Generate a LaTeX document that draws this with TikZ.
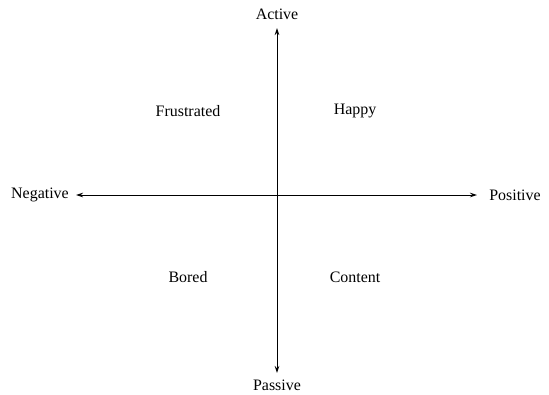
\documentclass[tikz,border=0pt]{standalone}
\usepackage{fontspec}
\setmainfont{Liberation Serif}
\usetikzlibrary{arrows.meta}
\begin{document}
\begin{tikzpicture}[x=1bp,y=-1bp,
  lbl/.style={font=\fontsize{16}{18}\selectfont, inner sep=0pt},
  axis/.style={line width=0.9bp, {Stealth[length=7bp,width=4.5bp]}-{Stealth[length=7bp,width=4.5bp]}}]
\useasboundingbox (0,0) rectangle (549,394);
\coordinate (c) at (277,195);
\node[lbl] (act) at (277,14) {Active};
\node[lbl] (pas) at (277,385) {Passive};
\node[lbl] (neg) at (40,195) {Negative};
\node[lbl] (pos) at (515,195) {Positive};
\node[lbl] (fr) at (188,111) {Frustrated};
\node[lbl] (ha) at (355,111) {Happy};
\node[lbl] (bo) at (188,277) {Bored};
\node[lbl] (co) at (355,277) {Content};
\coordinate (top) at (277,28);
\coordinate (bot) at (277,373);
\coordinate (lft) at (76,195);
\coordinate (rgt) at (477,195);
\draw[axis] (top) -- (bot);
\draw[axis] (lft) -- (rgt);
\end{tikzpicture}
\end{document}
